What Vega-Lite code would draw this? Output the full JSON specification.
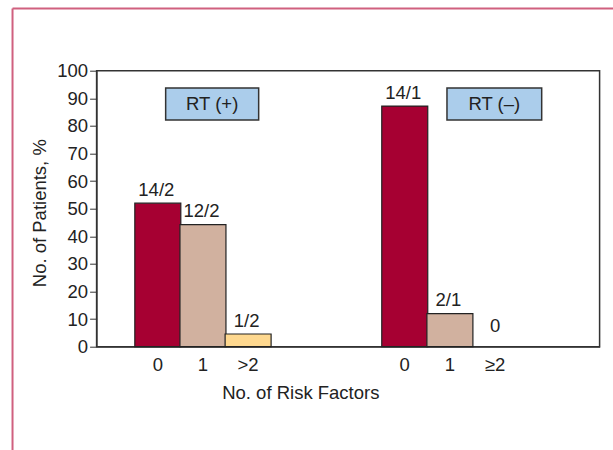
{
  "$schema": "https://vega.github.io/schema/vega-lite/v6.json",
  "width": 503,
  "height": 276,
  "autosize": {"type": "none"},
  "padding": {"left": 96.6, "top": 70.7, "right": 13.4, "bottom": 103.3},
  "background": "white",
  "config": {
    "font": "Liberation Sans",
    "view": {"stroke": "#333333", "strokeWidth": 1.5},
    "axis": {"domainColor": "#333333", "tickColor": "#333333", "labelColor": "#222222", "titleColor": "#222222", "grid": false, "labelFont": "Liberation Sans", "titleFont": "Liberation Sans", "titleFontWeight": "normal"}
  },
  "resolve": {"axis": {"x": "independent", "y": "independent"}},
  "datasets": {
    "bars": [
      {"group": "RT (+)", "factor": "0", "tick": "0", "slot": 1, "pct": 52, "label": "14/2"},
      {"group": "RT (+)", "factor": "1", "tick": "1", "slot": 2, "pct": 44.2, "label": "12/2"},
      {"group": "RT (+)", "factor": "2+", "tick": ">2", "slot": 3, "pct": 4.6, "label": "1/2"},
      {"group": "RT (–)", "factor": "0", "tick": "0", "slot": 6.47, "pct": 87.2, "label": "14/1"},
      {"group": "RT (–)", "factor": "1", "tick": "1", "slot": 7.47, "pct": 12, "label": "2/1"},
      {"group": "RT (–)", "factor": "2+", "tick": "≥2", "slot": 8.47, "pct": 0, "label": "0"}
    ],
    "boxes": [
      {"text": "RT (+)", "x0": 1.174, "x1": 3.234, "xm": 2.204, "y0": 82.1, "y1": 93.7, "ym": 87.9},
      {"text": "RT (–)", "x0": 7.405, "x1": 9.503, "xm": 8.454, "y0": 82.1, "y1": 93.7, "ym": 87.9}
    ]
  },
  "layer": [
    {
      "data": {"name": "bars"},
      "transform": [{"filter": "datum.pct > 0"}],
      "mark": {"type": "bar", "size": 46, "stroke": "#222222", "strokeWidth": 1.2},
      "encoding": {
        "x": {"field": "slot", "type": "quantitative", "scale": {"domain": [-0.245, 10.675], "nice": false, "zero": false},
          "axis": {"title": "No. of Risk Factors", "labels": false, "ticks": false, "titleFontSize": 18.5, "titleX": 203.7, "titleY": 51.3, "titleBaseline": "alphabetic", "titleAnchor": "middle", "titleAlign": "center"}},
        "y": {"field": "pct", "type": "quantitative", "scale": {"domain": [0, 100], "nice": false},
          "axis": {"title": "No. of Patients, %", "values": [0, 10, 20, 30, 40, 50, 60, 70, 80, 90, 100], "labelOverlap": false, "labelFlush": false, "labelBound": false, "tickSize": 7, "labelPadding": 2, "labelFontSize": 18.5, "titleFontSize": 18.5, "titleX": -57, "titleY": 142, "titleBaseline": "middle", "titleAlign": "center", "titleAngle": -90}},
        "color": {"field": "factor", "type": "nominal", "scale": {"domain": ["0", "1", "2+"], "range": ["#a60032", "#d1b19f", "#fed88f"]}, "legend": null}
      }
    },
    {
      "data": {"name": "bars"},
      "transform": [{"filter": "datum.pct > 0"}],
      "mark": {"type": "text", "baseline": "alphabetic", "dy": -7.5, "dx": -1.5, "fontSize": 18.5, "color": "#222222"},
      "encoding": {
        "x": {"field": "slot", "type": "quantitative", "axis": null},
        "y": {"field": "pct", "type": "quantitative", "axis": null},
        "text": {"field": "label"}
      }
    },
    {
      "data": {"name": "bars"},
      "transform": [{"filter": "datum.pct == 0"}],
      "mark": {"type": "text", "baseline": "alphabetic", "dy": -15, "fontSize": 18.5, "color": "#222222"},
      "encoding": {
        "x": {"field": "slot", "type": "quantitative", "axis": null},
        "y": {"field": "pct", "type": "quantitative", "axis": null},
        "text": {"field": "label"}
      }
    },
    {
      "data": {"name": "bars"},
      "mark": {"type": "text", "baseline": "top", "dy": 9, "fontSize": 18.5, "color": "#222222"},
      "encoding": {
        "x": {"field": "slot", "type": "quantitative", "axis": null},
        "y": {"datum": 0, "type": "quantitative", "axis": null},
        "text": {"field": "tick"}
      }
    },
    {
      "data": {"name": "boxes"},
      "mark": {"type": "rect", "fill": "#abcdeb", "stroke": "#333333", "strokeWidth": 1.5},
      "encoding": {
        "x": {"field": "x0", "type": "quantitative", "axis": null},
        "x2": {"field": "x1"},
        "y": {"field": "y0", "type": "quantitative", "axis": null},
        "y2": {"field": "y1"}
      }
    },
    {
      "data": {"name": "boxes"},
      "mark": {"type": "text", "baseline": "middle", "align": "center", "fontSize": 18.5, "color": "#222222"},
      "encoding": {
        "x": {"field": "xm", "type": "quantitative", "axis": null},
        "y": {"field": "ym", "type": "quantitative", "axis": null},
        "text": {"field": "text"}
      }
    },
    {
      "data": {"values": [{}]},
      "mark": {"type": "rule", "color": "#d0607f", "strokeWidth": 2},
      "encoding": {
        "x": {"datum": -2.218, "type": "quantitative", "axis": null},
        "y": {"datum": 122.5, "type": "quantitative", "axis": null},
        "y2": {"datum": -40}
      }
    },
    {
      "data": {"values": [{}]},
      "mark": {"type": "rule", "color": "#d0607f", "strokeWidth": 2},
      "encoding": {
        "x": {"datum": -2.218, "type": "quantitative", "axis": null},
        "x2": {"datum": 11.2},
        "y": {"datum": 122.5, "type": "quantitative", "axis": null}
      }
    }
  ]
}
